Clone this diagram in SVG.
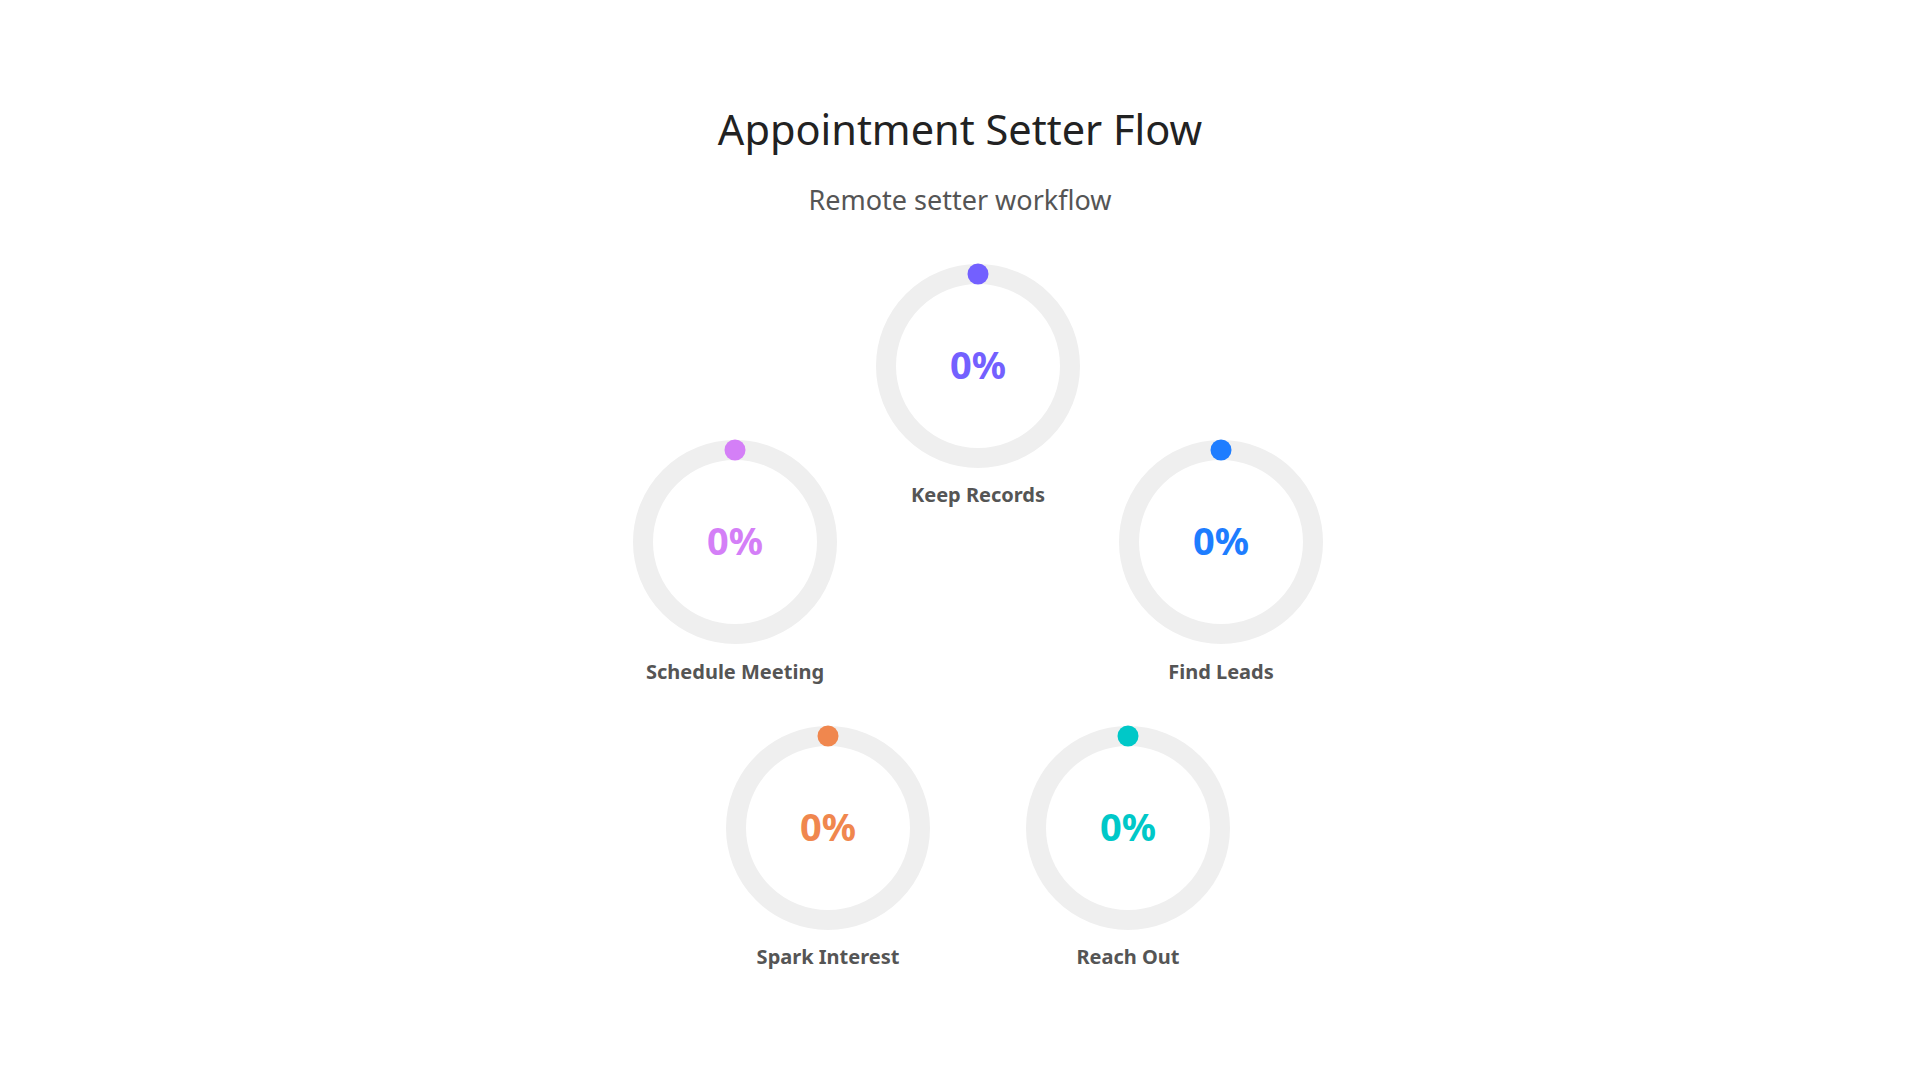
<svg xmlns="http://www.w3.org/2000/svg" width="1920" height="1080" viewBox="0 0 1920 1080">
<style>
.title{font-family:"Noto Sans","Open Sans",sans-serif;font-size:41.5px;fill:#222222;text-anchor:middle}
.sub{font-family:"Noto Sans","Open Sans",sans-serif;font-size:27px;fill:#555555;text-anchor:middle}
.ring{fill:none;stroke:#efefef;stroke-width:20}
.pct{font-family:"Noto Sans","Open Sans",sans-serif;font-size:38px;font-weight:bold;text-anchor:middle}
.lbl{font-family:"Noto Sans","Open Sans",sans-serif;font-size:20px;font-weight:bold;fill:#555555;text-anchor:middle}
</style>
<rect x="0" y="0" width="1920" height="1080" fill="#ffffff"/>
<text class="title" x="960" y="145">Appointment Setter Flow</text>
<text class="sub" x="960" y="210">Remote setter workflow</text>
<g id="connectors"/>
<g id="keep-records">
<circle class="ring" cx="978" cy="366" r="92"/>
<circle cx="978" cy="274" r="10.5" fill="#7360ff"/>
<text class="pct" x="978" y="379" fill="#7360ff">0%</text>
<text class="lbl" x="978" y="502">Keep Records</text>
</g>
<g id="find-leads">
<circle class="ring" cx="1221" cy="542" r="92"/>
<circle cx="1221" cy="450" r="10.5" fill="#1e7dff"/>
<text class="pct" x="1221" y="555" fill="#1e7dff">0%</text>
<text class="lbl" x="1221" y="679">Find Leads</text>
</g>
<g id="schedule-meeting">
<circle class="ring" cx="735" cy="542" r="92"/>
<circle cx="735" cy="450" r="10.5" fill="#d47ff7"/>
<text class="pct" x="735" y="555" fill="#d47ff7">0%</text>
<text class="lbl" x="735" y="679">Schedule Meeting</text>
</g>
<g id="spark-interest">
<circle class="ring" cx="828" cy="828" r="92"/>
<circle cx="828" cy="736" r="10.5" fill="#f0874e"/>
<text class="pct" x="828" y="841" fill="#f0874e">0%</text>
<text class="lbl" x="828" y="964">Spark Interest</text>
</g>
<g id="reach-out">
<circle class="ring" cx="1128" cy="828" r="92"/>
<circle cx="1128" cy="736" r="10.5" fill="#00c8c8"/>
<text class="pct" x="1128" y="841" fill="#00c8c8">0%</text>
<text class="lbl" x="1128" y="964">Reach Out</text>
</g>
</svg>
